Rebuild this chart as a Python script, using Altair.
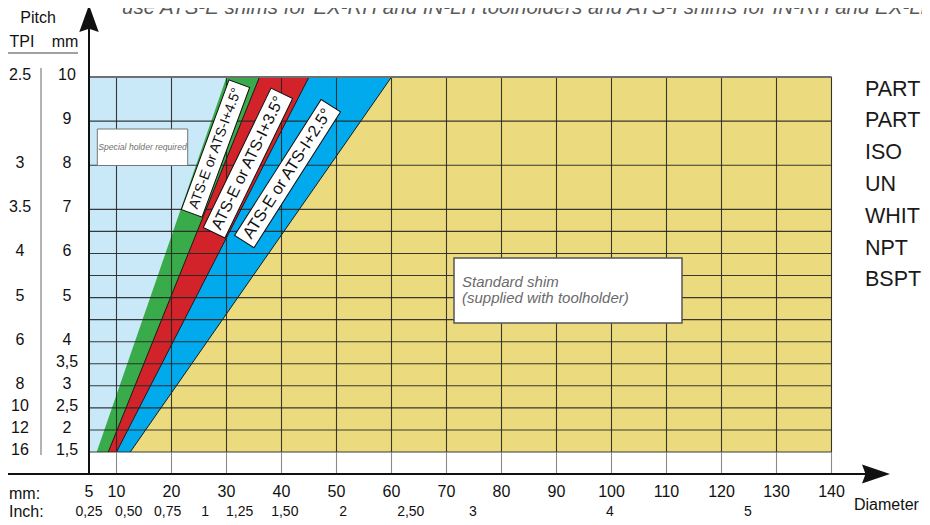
import altair as alt
import pandas as pd

# ---------------- values ----------------
x_ticks = [5, 10, 20, 30, 40, 50, 60, 70, 80, 90, 100, 110, 120, 130, 140]
inch_labels = ["0,25", "0,50", "0,75", "1", "1,25", "1,50", "2", "2,50", "3", "4", "5"]
inch_label_at_mm = [5.0, 12.2, 19.3, 26.1, 32.4, 40.6, 51.2, 63.5, 74.8, 99.7, 124.8]
pitch_mm_values = [10, 9, 8, 7, 6, 5, 4, 3.5, 3, 2.5, 2, 1.5]
pitch_mm_labels = ["10", "9", "8", "7", "6", "5", "4", "3,5", "3", "2,5", "2", "1,5"]
tpi_labels = ["2.5", "3", "3.5", "4", "5", "6", "8", "10", "12", "16"]
tpi_at_mm = [10, 8, 7, 6, 5, 4, 3, 2.5, 2, 1.5]
grid_pitch = [10, 9, 8, 7, 6.5, 6, 5.5, 5, 4.5, 4, 3.5, 3, 2.5, 2, 1.5]
grid_diameter = [10, 20, 30, 40, 50, 60, 70, 80, 90, 100, 110, 120, 130, 140]

zone_names = ["Special holder", "ATS +4.5", "ATS +3.5", "ATS +2.5", "Standard shim"]
zone_colors = ["#c9e9f8", "#3aab4b", "#d2232a", "#00aaec", "#ecdb7e"]
zone_left_at_min_pitch = [5, 6.4, 8.5, 10.0, 12.5]
zone_left_at_max_pitch = [5, 30, 36, 45, 60]
pitch_range = [1.5, 10]
diameter_range = [5, 140]

shim_labels = ["ATS-E or ATS-I+4.5°", "ATS-E or ATS-I+3.5°", "ATS-E or ATS-I+2.5°"]
shim_label_diameter = [28.0, 33.9, 41.1]
shim_label_pitch = [8.38, 8.05, 7.81]

thread_types = ["PART", "PART", "ISO", "UN", "WHIT", "NPT", "BSPT"]
title_text = "use ATS-E shims for EX-RH and IN-LH toolholders and ATS-I shims for IN-RH and EX-LH"

# ---------------- layout ----------------
W, H = 914, 517
PX_X = 5.5
PX_Y = 375 / 8.5
FONT = "Liberation Sans"


def dxp(px):
    return 5 + (px - 89) / PX_X


def dyp(py):
    return 10 - (py - 77) / PX_Y


X0, X1 = dxp(8), dxp(8 + W)
Y0, Y1 = dyp(8 + H), dyp(8)
xs = alt.Scale(domain=[X0, X1], nice=False, zero=False)
ys = alt.Scale(domain=[Y0, Y1], nice=False, zero=False)
AXIS_P = dyp(474)


def X(f):
    return alt.X(f, type="quantitative", scale=xs, axis=None)


def Y(f):
    return alt.Y(f, type="quantitative", scale=ys, axis=None)


layers = []

# zones (each drawn from its left boundary to the right edge, in order)
for i, name in enumerate(zone_names):
    zdf = pd.DataFrame({
        "pitch": pitch_range,
        "left": [zone_left_at_min_pitch[i], zone_left_at_max_pitch[i]],
        "right": [diameter_range[1], diameter_range[1]],
    })
    layers.append(
        alt.Chart(zdf).mark_area(orient="horizontal", color=zone_colors[i], opacity=1)
        .encode(y=Y("pitch"), x=X("left"), x2="right")
    )

# boundary lines between colored zones
bl = []
for i in range(2, 5):
    bl.append({"b": i, "pitch": pitch_range[0], "d": zone_left_at_min_pitch[i]})
    bl.append({"b": i, "pitch": pitch_range[1], "d": zone_left_at_max_pitch[i]})
layers.append(
    alt.Chart(pd.DataFrame(bl)).mark_line(color="#1a1a1a", strokeWidth=1)
    .encode(x=X("d"), y=Y("pitch"), detail="b:N")
)

# grid
hg = pd.DataFrame({"p": grid_pitch, "a": diameter_range[0], "b": diameter_range[1]})
layers.append(
    alt.Chart(hg).mark_rule(color="#262626", strokeWidth=1.1, opacity=0.9)
    .encode(y=Y("p"), x=X("a"), x2="b")
)
vg = pd.DataFrame({"d": grid_diameter, "lo": pitch_range[0], "hi": pitch_range[1], "ax": AXIS_P})
layers.append(
    alt.Chart(vg).mark_rule(color="#262626", strokeWidth=1.1, opacity=0.9)
    .encode(x=X("d"), y=Y("lo"), y2="hi")
)
layers.append(
    alt.Chart(vg).mark_rule(color="#8a8a8a", strokeWidth=1.1)
    .encode(x=X("d"), y=Y("ax"), y2="lo")
)
# top border
tb = pd.DataFrame({"p": [pitch_range[1]], "a": [diameter_range[0]], "b": [diameter_range[1]]})
layers.append(
    alt.Chart(tb).mark_rule(color="#707070", strokeWidth=2)
    .encode(y=Y("p"), x=X("a"), x2="b")
)

# axes lines + arrow heads
ya = pd.DataFrame({"d": [diameter_range[0]], "lo": [AXIS_P], "hi": [dyp(26)]})
layers.append(alt.Chart(ya).mark_rule(color="#111", strokeWidth=2).encode(x=X("d"), y=Y("lo"), y2="hi"))
xa = pd.DataFrame({"p": [AXIS_P], "a": [X0], "b": [dxp(868)]})
layers.append(alt.Chart(xa).mark_rule(color="#111", strokeWidth=2).encode(y=Y("p"), x=X("a"), x2="b"))
layers.append(
    alt.Chart(pd.DataFrame({"d": [diameter_range[0]], "p": [dyp(18.5)]}))
    .mark_point(shape="M0,-1L0.72,1L0,0.75L-0.72,1Z", size=27 ** 2, filled=True, color="#111", opacity=1)
    .encode(x=X("d"), y=Y("p"))
)
layers.append(
    alt.Chart(pd.DataFrame({"d": [dxp(876)], "p": [AXIS_P]}))
    .mark_point(shape="M1,0L-1,-0.68L-0.75,0L-1,0.68Z", size=28 ** 2, filled=True, color="#111", opacity=1)
    .encode(x=X("d"), y=Y("p"))
)

# special holder box
sh = pd.DataFrame({"a": [dxp(97.3)], "b": [dxp(187.7)], "t": [dyp(129)], "u": [dyp(165.5)],
                   "cx": [dxp(142.5)], "cy": [dyp(147)], "txt": ["Special holder required"]})
layers.append(alt.Chart(sh).mark_rect(fill="white", stroke="#777", strokeWidth=1)
              .encode(x=X("a"), x2="b", y=Y("t"), y2="u"))
layers.append(alt.Chart(sh).mark_text(font=FONT, fontStyle="italic", fontSize=8.6, color="#6f6f6f",
                                      align="center", baseline="middle")
              .encode(x=X("cx"), y=Y("cy"), text="txt:N"))

# standard shim box
ss = pd.DataFrame({"a": [dxp(454)], "b": [dxp(682)], "t": [dyp(258)], "u": [dyp(323)]})
layers.append(alt.Chart(ss).mark_rect(fill="white", stroke="#555", strokeWidth=1.5)
              .encode(x=X("a"), x2="b", y=Y("t"), y2="u"))
st = pd.DataFrame({"x": [dxp(462), dxp(462)], "y": [dyp(287), dyp(303)],
                   "txt": ["Standard shim", "(supplied with toolholder)"]})
layers.append(alt.Chart(st).mark_text(font=FONT, fontStyle="italic", fontSize=15, color="#6a6a6a",
                                      align="left", baseline="alphabetic")
              .encode(x=X("x"), y=Y("y"), text="txt:N"))

# rotated shim labels
box_len = [138, 155, 161]
box_w = [22, 24, 23]
box_ang = [290.2, 295.9, 302.5]
box_font = [14, 16, 16.5]
for i, lab in enumerate(shim_labels):
    r = box_w[i] / box_len[i]
    path = f"M-1,-{r:.4f}L1,-{r:.4f}L1,{r:.4f}L-1,{r:.4f}Z"
    ldf = pd.DataFrame({"d": [shim_label_diameter[i]], "p": [shim_label_pitch[i]], "txt": [lab]})
    layers.append(alt.Chart(ldf).mark_point(shape=path, size=box_len[i] ** 2, angle=box_ang[i], filled=True,
                                            fill="white", stroke="#111", strokeWidth=1, opacity=1)
                  .encode(x=X("d"), y=Y("p")))
    layers.append(alt.Chart(ldf).mark_text(angle=box_ang[i], fontSize=box_font[i], font=FONT, color="#111",
                                           align="center", baseline="middle")
                  .encode(x=X("d"), y=Y("p"), text="txt:N"))

# y-axis label columns
mmdf = pd.DataFrame({"x": dxp(67), "y": pitch_mm_values, "t": pitch_mm_labels})
layers.append(alt.Chart(mmdf).mark_text(font=FONT, fontSize=16, color="#111", align="center", baseline="middle", dy=-2)
              .encode(x=X("x"), y=Y("y"), text="t:N"))
tpidf = pd.DataFrame({"x": dxp(20), "y": tpi_at_mm, "t": tpi_labels})
layers.append(alt.Chart(tpidf).mark_text(font=FONT, fontSize=16, color="#111", align="center", baseline="middle", dy=-2)
              .encode(x=X("x"), y=Y("y"), text="t:N"))
sep = pd.DataFrame({"x": [dxp(41)], "a": [dyp(68)], "b": [dyp(455)]})
layers.append(alt.Chart(sep).mark_rule(color="#666", strokeWidth=1).encode(x=X("x"), y=Y("a"), y2="b"))
hl = pd.DataFrame({"y": [dyp(53)], "a": [X0], "b": [dxp(78)]})
layers.append(alt.Chart(hl).mark_rule(color="#444", strokeWidth=1).encode(y=Y("y"), x=X("a"), x2="b"))
hdr = pd.DataFrame({"x": [dxp(38), dxp(22), dxp(65)], "y": [dyp(18), dyp(42), dyp(42)],
                    "t": ["Pitch", "TPI", "mm"]})
layers.append(alt.Chart(hdr).mark_text(font=FONT, fontSize=16, color="#111", align="center", baseline="middle")
              .encode(x=X("x"), y=Y("y"), text="t:N"))

# x-axis labels
xl = pd.DataFrame({"x": x_ticks, "y": dyp(492), "t": [str(v) for v in x_ticks]})
layers.append(alt.Chart(xl).mark_text(font=FONT, fontSize=16, color="#111", align="center", baseline="middle")
              .encode(x=X("x"), y=Y("y"), text="t:N"))
il = pd.DataFrame({"x": inch_label_at_mm, "y": dyp(512), "t": inch_labels})
layers.append(alt.Chart(il).mark_text(font=FONT, fontSize=14, color="#111", align="center", baseline="middle")
              .encode(x=X("x"), y=Y("y"), text="t:N"))
ul = pd.DataFrame({"x": [dxp(9), dxp(9)], "y": [dyp(494), dyp(512)], "t": ["mm:", "Inch:"]})
layers.append(alt.Chart(ul).mark_text(font=FONT, fontSize=16, color="#111", align="left", baseline="middle")
              .encode(x=X("x"), y=Y("y"), text="t:N"))
dl = pd.DataFrame({"x": [dxp(854)], "y": [dyp(505)], "t": ["Diameter"]})
layers.append(alt.Chart(dl).mark_text(font=FONT, fontSize=16, color="#111", align="left", baseline="middle")
              .encode(x=X("x"), y=Y("y"), text="t:N"))

# thread types list on the right
tt = pd.DataFrame({"x": dxp(865), "y": [dyp(v) for v in [90, 121, 153, 185, 217, 249, 280]], "t": thread_types})
layers.append(alt.Chart(tt).mark_text(font=FONT, fontSize=21.5, color="#1a1a1a", align="left", baseline="middle")
              .encode(x=X("x"), y=Y("y"), text="t:N"))

# clipped italic heading at the very top
ti = pd.DataFrame({"x": [dxp(122)], "y": [dyp(14)], "t": [title_text]})
layers.append(alt.Chart(ti).mark_text(font=FONT, fontStyle="italic", fontSize=20.5, color="#5a5a5a",
                                      align="left", baseline="alphabetic")
              .encode(x=X("x"), y=Y("y"), text="t:N"))

chart = alt.layer(*layers).properties(
    width=W, height=H, padding=0,
    autosize=alt.AutoSizeParams(type="none"),
    background="white",
).configure_view(stroke=None)

chart.save("out.html", embed_options={"renderer": "svg", "actions": False})
